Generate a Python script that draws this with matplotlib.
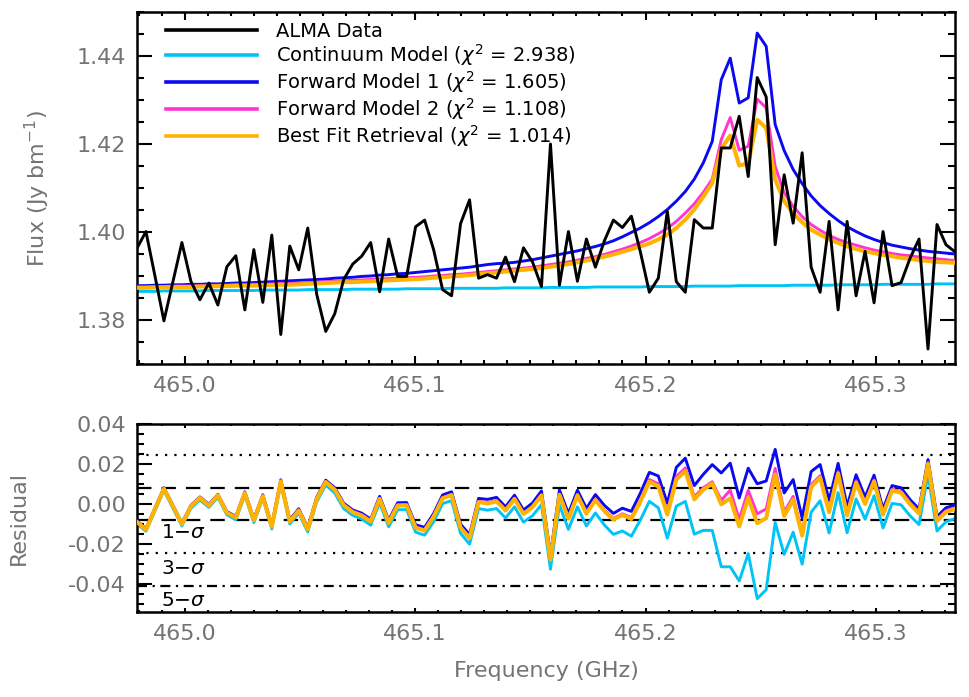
"""
ALMA spectrum around 465.2 GHz with continuum / forward / retrieval models,
plus the model-minus-data residuals underneath.
"""

import matplotlib

matplotlib.use("Agg")
import matplotlib.pyplot as plt
import numpy as np
from matplotlib.ticker import MultipleLocator

# --- channel grid (GHz) ---------------------------------------------------
F_START = 464.9793
CHAN_WIDTH = 0.003901

# --- spectra (Jy/beam), one value per channel -----------------------------
flux_data = [
    1.3963, 1.4001, 1.3900, 1.3798, 1.3887, 1.3976, 1.3888, 1.3846, 1.3884, 1.3834,
    1.3921, 1.3946, 1.3823, 1.3960, 1.3840, 1.3993, 1.3767, 1.3968, 1.3914, 1.4009,
    1.3858, 1.3774, 1.3814, 1.3892, 1.3927, 1.3945, 1.3976, 1.3864, 1.3984, 1.3899,
    1.3899, 1.4012, 1.4027, 1.3960, 1.3869, 1.3855, 1.4019, 1.4073, 1.3895, 1.3903,
    1.3895, 1.3943, 1.3887, 1.3964, 1.3932, 1.3876, 1.4200, 1.3879, 1.4001, 1.3888,
    1.3984, 1.3920, 1.3980, 1.4027, 1.4010, 1.4036, 1.3955, 1.3863, 1.3895, 1.4047,
    1.3887, 1.3863, 1.4028, 1.4009, 1.4009, 1.4191, 1.4191, 1.4263, 1.4126, 1.4351,
    1.4307, 1.3971, 1.4130, 1.4020, 1.4180, 1.3920, 1.3863, 1.4024, 1.3823, 1.4024,
    1.3855, 1.3956, 1.3839, 1.4001, 1.3878, 1.3885, 1.3940, 1.3984, 1.3734, 1.4017,
    1.3971, 1.3955,
]

flux_continuum = [
    1.3865, 1.3865, 1.3865, 1.3866, 1.3866, 1.3866, 1.3866, 1.3866, 1.3867, 1.3867,
    1.3867, 1.3867, 1.3867, 1.3867, 1.3868, 1.3868, 1.3868, 1.3868, 1.3868, 1.3869,
    1.3869, 1.3869, 1.3869, 1.3869, 1.3870, 1.3870, 1.3870, 1.3870, 1.3870, 1.3870,
    1.3871, 1.3871, 1.3871, 1.3871, 1.3871, 1.3872, 1.3872, 1.3872, 1.3872, 1.3872,
    1.3872, 1.3873, 1.3873, 1.3873, 1.3873, 1.3873, 1.3874, 1.3874, 1.3874, 1.3874,
    1.3874, 1.3875, 1.3875, 1.3875, 1.3875, 1.3875, 1.3875, 1.3876, 1.3876, 1.3876,
    1.3876, 1.3876, 1.3877, 1.3877, 1.3877, 1.3877, 1.3877, 1.3878, 1.3878, 1.3878,
    1.3878, 1.3878, 1.3878, 1.3879, 1.3879, 1.3879, 1.3879, 1.3879, 1.3880, 1.3880,
    1.3880, 1.3880, 1.3880, 1.3881, 1.3881, 1.3881, 1.3881, 1.3881, 1.3881, 1.3882,
    1.3882, 1.3882,
]

flux_forward1 = [
    1.3878, 1.3878, 1.3879, 1.3879, 1.3880, 1.3880, 1.3881, 1.3881, 1.3882, 1.3882,
    1.3883, 1.3884, 1.3884, 1.3885, 1.3886, 1.3887, 1.3888, 1.3889, 1.3890, 1.3891,
    1.3892, 1.3893, 1.3895, 1.3896, 1.3897, 1.3899, 1.3900, 1.3902, 1.3903, 1.3905,
    1.3906, 1.3908, 1.3910, 1.3912, 1.3914, 1.3916, 1.3918, 1.3920, 1.3923, 1.3926,
    1.3928, 1.3929, 1.3931, 1.3934, 1.3937, 1.3941, 1.3945, 1.3949, 1.3953, 1.3957,
    1.3962, 1.3967, 1.3973, 1.3980, 1.3989, 1.3999, 1.4009, 1.4021, 1.4035, 1.4051,
    1.4070, 1.4092, 1.4120, 1.4157, 1.4206, 1.4346, 1.4395, 1.4293, 1.4305, 1.4452,
    1.4422, 1.4244, 1.4185, 1.4142, 1.4110, 1.4082, 1.4060, 1.4042, 1.4026, 1.4012,
    1.4001, 1.3991, 1.3983, 1.3976, 1.3970, 1.3966, 1.3962, 1.3959, 1.3956, 1.3954,
    1.3952, 1.3950,
]

flux_forward2 = [
    1.3875, 1.3875, 1.3876, 1.3876, 1.3877, 1.3877, 1.3877, 1.3878, 1.3878, 1.3879,
    1.3879, 1.3880, 1.3880, 1.3881, 1.3881, 1.3882, 1.3883, 1.3883, 1.3884, 1.3885,
    1.3886, 1.3887, 1.3888, 1.3889, 1.3890, 1.3891, 1.3892, 1.3893, 1.3894, 1.3895,
    1.3896, 1.3897, 1.3898, 1.3900, 1.3901, 1.3903, 1.3904, 1.3906, 1.3908, 1.3910,
    1.3912, 1.3914, 1.3916, 1.3918, 1.3920, 1.3923, 1.3926, 1.3929, 1.3932, 1.3936,
    1.3940, 1.3944, 1.3949, 1.3955, 1.3961, 1.3968, 1.3976, 1.3985, 1.3996, 1.4008,
    1.4024, 1.4043, 1.4064, 1.4090, 1.4120, 1.4210, 1.4260, 1.4186, 1.4195, 1.4302,
    1.4282, 1.4149, 1.4089, 1.4058, 1.4035, 1.4017, 1.4004, 1.3992, 1.3983, 1.3976,
    1.3970, 1.3964, 1.3959, 1.3955, 1.3951, 1.3948, 1.3946, 1.3943, 1.3941, 1.3939,
    1.3937, 1.3935,
]

flux_best_fit = [
    1.3873, 1.3873, 1.3874, 1.3874, 1.3875, 1.3875, 1.3875, 1.3876, 1.3876, 1.3877,
    1.3877, 1.3878, 1.3878, 1.3878, 1.3879, 1.3879, 1.3880, 1.3880, 1.3881, 1.3882,
    1.3883, 1.3884, 1.3885, 1.3886, 1.3886, 1.3887, 1.3888, 1.3889, 1.3890, 1.3891,
    1.3892, 1.3893, 1.3894, 1.3896, 1.3897, 1.3899, 1.3900, 1.3902, 1.3904, 1.3906,
    1.3908, 1.3910, 1.3912, 1.3914, 1.3916, 1.3918, 1.3921, 1.3924, 1.3927, 1.3931,
    1.3935, 1.3939, 1.3944, 1.3949, 1.3955, 1.3961, 1.3967, 1.3974, 1.3983, 1.3994,
    1.4009, 1.4028, 1.4051, 1.4080, 1.4111, 1.4189, 1.4219, 1.4151, 1.4156, 1.4255,
    1.4236, 1.4119, 1.4070, 1.4042, 1.4022, 1.4005, 1.3994, 1.3983, 1.3975, 1.3967,
    1.3961, 1.3956, 1.3952, 1.3948, 1.3945, 1.3941, 1.3939, 1.3936, 1.3934, 1.3932,
    1.3931, 1.3930,
]

chi2_continuum = 2.938
chi2_forward1 = 1.605
chi2_forward2 = 1.108
chi2_best_fit = 1.014

# noise level used for the sigma guide lines in the residual panel
SIGMA = 0.0082

# --- styling --------------------------------------------------------------
C_DATA = "black"
C_CONT = "#00C4F5"
C_FM1 = "#0A0AF0"
C_FM2 = "#FF35D0"
C_BEST = "#FFB300"
GREY = "#747474"

plt.rcParams["font.family"] = ["DejaVu Sans"]
plt.rcParams["mathtext.fontset"] = "dejavusans"


def style_axes(ax, xtick_major, xtick_minor):
    for side in ax.spines.values():
        side.set_linewidth(1.8)
    ax.tick_params(which="both", direction="in", top=True, right=True,
                   labelcolor=GREY, labelsize=16, width=1.5, color="black")
    ax.tick_params(axis="y", which="major", length=10.8, pad=8)
    ax.tick_params(axis="y", which="minor", length=5.2)
    ax.tick_params(axis="x", which="major", length=xtick_major, pad=9)
    ax.tick_params(axis="x", which="minor", length=xtick_minor)
    ax.xaxis.set_major_locator(MultipleLocator(0.1))
    ax.xaxis.set_minor_locator(MultipleLocator(0.01))
    ax.xaxis.set_major_formatter(plt.FormatStrFormatter("%.1f"))


def main() -> None:
    data = np.array(flux_data)
    cont = np.array(flux_continuum)
    fm1 = np.array(flux_forward1)
    fm2 = np.array(flux_forward2)
    best = np.array(flux_best_fit)
    freq = F_START + CHAN_WIDTH * np.arange(len(data))

    fig = plt.figure(figsize=(9.7, 6.97), dpi=100)
    ax_top = fig.add_axes([0.1412, 0.4778, 0.8433, 0.5050])
    ax_res = fig.add_axes([0.1412, 0.1220, 0.8433, 0.2697])

    # top panel: spectrum + models
    ax_top.plot(freq, data, color=C_DATA, lw=2.1, zorder=6, label="ALMA Data")
    ax_top.plot(freq, cont, color=C_CONT, lw=2.1, zorder=2,
                label=rf"Continuum Model ($\chi^2$ = {chi2_continuum:.3f})")
    ax_top.plot(freq, fm1, color=C_FM1, lw=2.1, zorder=3,
                label=rf"Forward Model 1 ($\chi^2$ = {chi2_forward1:.3f})")
    ax_top.plot(freq, fm2, color=C_FM2, lw=2.1, zorder=4,
                label=rf"Forward Model 2 ($\chi^2$ = {chi2_forward2:.3f})")
    ax_top.plot(freq, best, color=C_BEST, lw=2.9, zorder=5,
                label=rf"Best Fit Retrieval ($\chi^2$ = {chi2_best_fit:.3f})")

    ax_top.set_xlim(freq[0], freq[-1])
    ax_top.set_ylim(1.37, 1.45)
    ax_top.yaxis.set_major_locator(MultipleLocator(0.02))
    ax_top.yaxis.set_minor_locator(MultipleLocator(0.005))
    ax_top.yaxis.set_major_formatter(plt.FormatStrFormatter("%.2f"))
    style_axes(ax_top, 5.8, 2.9)
    ax_top.set_ylabel(r"Flux (Jy bm$^{-1}$)", color=GREY, fontsize=16)
    ax_top.yaxis.set_label_coords(-0.104, 0.5)

    handles, labels = ax_top.get_legend_handles_labels()
    leg = ax_top.legend(handles, labels, loc="upper left", frameon=False,
                        fontsize=14, handlelength=4.7, handletextpad=0.95,
                        labelspacing=0.06, borderaxespad=0.0,
                        bbox_to_anchor=(0.026, 0.995))
    for line in leg.get_lines():
        line.set_linewidth(2.6)

    # bottom panel: residuals (model - data)
    ax_res.plot(freq, cont - data, color=C_CONT, lw=2.1, zorder=2)
    ax_res.plot(freq, fm1 - data, color=C_FM1, lw=2.1, zorder=3)
    ax_res.plot(freq, fm2 - data, color=C_FM2, lw=2.1, zorder=4)
    ax_res.plot(freq, best - data, color=C_BEST, lw=2.9, zorder=5)

    for level in (SIGMA, -SIGMA):
        ax_res.axhline(level, color="black", lw=1.6, ls=(0, (6.5, 4.5)), zorder=1)
    for level in (3 * SIGMA, -3 * SIGMA):
        ax_res.axhline(level, color="black", lw=1.6, ls=(0, (1, 3.2)), zorder=1)
    ax_res.axhline(-5 * SIGMA, color="black", lw=1.6,
                   ls=(0, (4.5, 2.5, 1, 2.5)), zorder=1)

    x_txt = freq[0] + 0.0105
    ax_res.text(x_txt, -0.0143, r"1$-\sigma$", fontsize=14.5, va="center")
    ax_res.text(x_txt, -0.0323, r"3$-\sigma$", fontsize=14.5, va="center")
    ax_res.text(x_txt, -0.0483, r"5$-\sigma$", fontsize=14.5, va="center")

    ax_res.set_xlim(freq[0], freq[-1])
    ax_res.set_ylim(-0.054, 0.040)
    ax_res.yaxis.set_major_locator(MultipleLocator(0.02))
    ax_res.yaxis.set_minor_locator(MultipleLocator(0.005))
    ax_res.yaxis.set_major_formatter(plt.FormatStrFormatter("%.2f"))
    style_axes(ax_res, 3.0, 1.5)
    ax_res.set_ylabel("Residual", color=GREY, fontsize=16)
    ax_res.yaxis.set_label_coords(-0.132, 0.5)
    ax_res.set_xlabel("Frequency (GHz)", color=GREY, fontsize=16, labelpad=12)

    fig.savefig("out.png", dpi=100)
    plt.close(fig)


if __name__ == "__main__":
    main()
